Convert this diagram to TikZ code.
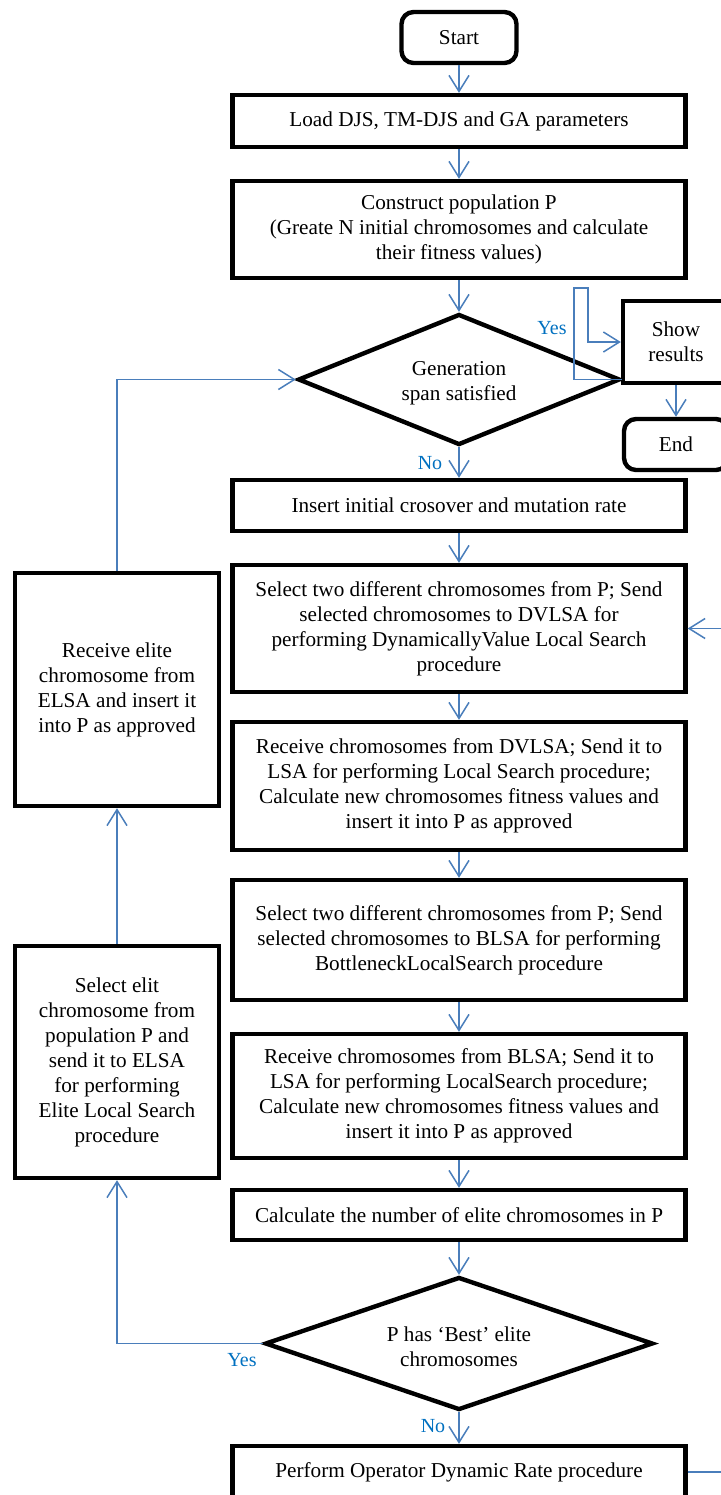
\documentclass[tikz,border=0pt]{standalone}
\usepackage{fontspec}
\setmainfont{Liberation Serif}
\usetikzlibrary{arrows.meta,shapes.geometric}
\definecolor{connc}{HTML}{4A7EBB}
\definecolor{lblc}{HTML}{0070C0}
\begin{document}
\begin{tikzpicture}[x=0.5pt,y=-0.5pt,
  box/.style={draw=black,line width=2.2pt,rectangle,inner sep=1pt,align=center,
    font=\fontsize{10.6}{12.5}\selectfont},
  rbox/.style={box,rounded corners=6pt},
  dia/.style={draw=black,line width=2.2pt,diamond,inner sep=0pt},
  txt/.style={align=center,font=\fontsize{10.6}{12.5}\selectfont,inner sep=0pt},
  conn/.style={draw=connc,line width=0.75pt,-{Straight Barb[length=8pt,width=10pt,line width=0.75pt]}},
  plain/.style={draw=connc,line width=0.75pt},
  lab/.style={text=lblc,font=\fontsize{10}{12}\selectfont,inner sep=0pt}]
\useasboundingbox (0,0) rectangle (721,1495);

% main column
\node[rbox,minimum width=57.5pt,minimum height=25.5pt] (start) at (459,37.5) {Start};
\node[box,minimum width=226.5pt,minimum height=26pt] (load) at (459,121) {Load DJS, TM-DJS and GA parameters};
\node[box,minimum width=226.5pt,minimum height=48.5pt] (cons) at (459,229.5)
  {Construct population P\\(Greate N initial chromosomes and calculate\\their fitness values)};
\node[dia,minimum width=161pt,minimum height=65.5pt] (d1) at (459,379.5) {};
\node[txt] (d1t) at (459,383) {Generation\\span satisfied};
\node[box,minimum width=226.5pt,minimum height=25.5pt] (ins) at (459,505.5) {Insert initial crosover and mutation rate};
\node[box,minimum width=226.5pt,minimum height=63.5pt] (s1) at (459,628.5)
  {Select two different chromosomes from P; Send\\selected chromosomes to DVLSA for\\performing DynamicallyValue Local Search\\procedure};
\node[box,minimum width=226.5pt,minimum height=64pt] (r1) at (459,786)
  {Receive chromosomes from DVLSA; Send it to\\LSA for performing Local Search procedure;\\Calculate new chromosomes fitness values and\\insert it into P as approved};
\node[box,minimum width=226.5pt,minimum height=60pt] (s2) at (459,940)
  {Select two different chromosomes from P; Send\\selected chromosomes to BLSA for performing\\BottleneckLocalSearch procedure};
\node[box,minimum width=226.5pt,minimum height=62pt] (r2) at (459,1096)
  {Receive chromosomes from BLSA; Send it to\\LSA for performing LocalSearch procedure;\\Calculate new chromosomes fitness values and\\insert it into P as approved};
\node[box,minimum width=226.5pt,minimum height=25pt] (calc) at (459,1215) {Calculate the number of elite chromosomes in P};
\node[dia,minimum width=194pt,minimum height=66.5pt] (d2) at (459,1343.5) {};
\node[txt] (d2t) at (459,1347) {P has ‘Best’ elite\\chromosomes};
\node[box,minimum width=226.5pt,minimum height=26pt] (perf) at (459,1472) {Perform Operator Dynamic Rate procedure};

% right side
\node[box,minimum width=53pt,minimum height=41pt] (show) at (676,342) {Show\\results};
\node[rbox,minimum width=52pt,minimum height=25.5pt] (end) at (676,444.5) {End};

% left side
\node[box,minimum width=102pt,minimum height=116.5pt] (re) at (117,689.5)
  {Receive elite\\chromosome from\\ELSA and insert it\\into P as approved};
\node[box,minimum width=102pt,minimum height=116pt] (se) at (117,1062)
  {Select elit\\chromosome from\\population P and\\send it to ELSA\\for performing\\Elite Local Search\\procedure};

% labels
\node[lab] (yes1) at (552,328) {Yes};
\node[lab] (no1) at (430,463) {No};
\node[lab] (yes2) at (242,1360) {Yes};
\node[lab] (no2) at (433,1426) {No};

% connectors
\draw[conn] (start) -- (load);
\draw[conn] (load) -- (cons);
\draw[conn] (cons.south) -- (d1.north);
\draw[conn] (d1.south) -- (ins.north);
\draw[conn] (ins) -- (s1);
\draw[conn] (s1) -- (r1);
\draw[conn] (r1) -- (s2);
\draw[conn] (s2) -- (r2);
\draw[conn] (r2) -- (calc);
\draw[conn] (calc.south) -- (d2.north);
\draw[conn] (d2.south) -- (perf.north);

\coordinate (ya) at (574,288);
\coordinate (yb) at (588,288);
\draw[conn] (d1.east) -| (ya) -- (yb) |- (show.west);
\draw[conn] (show) -- (end);

\draw[conn] (d2.west) -| (se.south);
\draw[conn] (se.north) -- (re.south);
\draw[conn] (re.north) |- (d1.west);

\coordinate (rin) at (740,628.5);
\coordinate (rout) at (740,1472);
\draw[conn] (rin) -- (s1.east);
\draw[plain] (perf.east) -- (rout);
\end{tikzpicture}
\end{document}
